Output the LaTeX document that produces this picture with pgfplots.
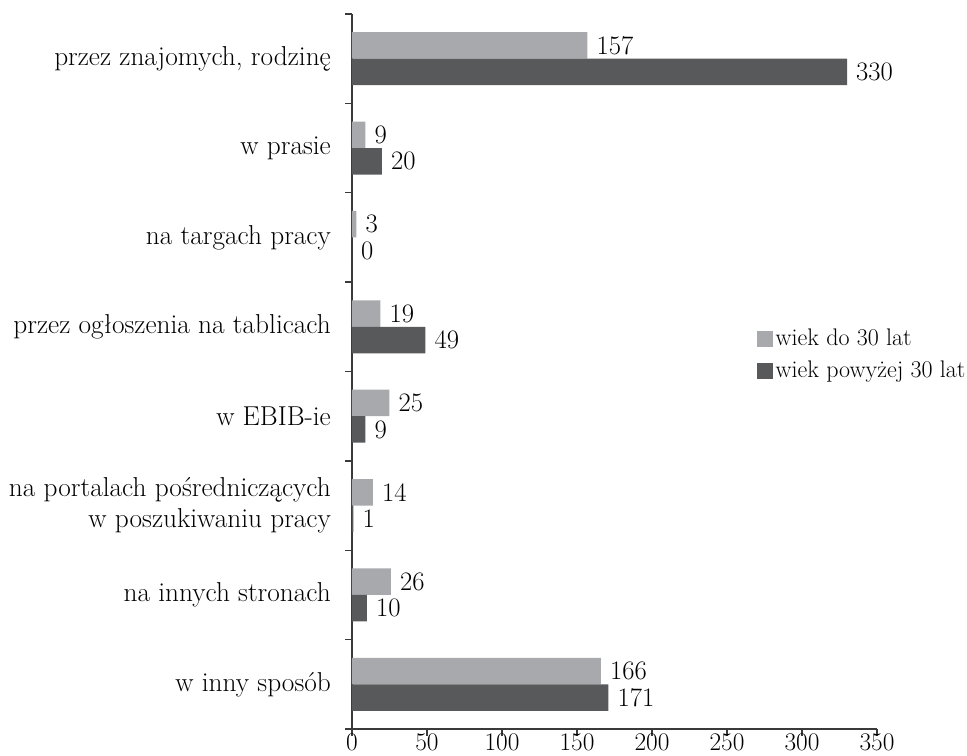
\documentclass[border=0pt]{standalone}
\usepackage{pgfplots}
\pgfplotsset{compat=1.18}
\definecolor{lightbar}{HTML}{A7A9AC}
\definecolor{darkbar}{HTML}{58595B}
\definecolor{axisgray}{HTML}{3A3A3A}
\begin{document}
\fontsize{20}{25}\selectfont
\begin{tikzpicture}
\begin{axis}[
  at={(0,0)}, anchor=south west,
  scale only axis, width=393.75pt, height=536.25pt,
  /pgf/number format/assume math mode=true,
  xbar, bar width=19.9pt,
  xmin=0, xmax=350, ymin=-0.5, ymax=7.5, y dir=reverse,
  axis x line*=bottom, axis y line*=left,
  axis line style={axisgray, line width=1.1pt, -},
  tick style={axisgray, line width=1.1pt},
  tick align=outside, major tick length=5pt,
  xtick={0,50,...,350},
  xticklabel style={font=\fontsize{19}{22}\selectfont, inner sep=0pt, yshift=1.5pt},
  ytick={-0.5,0.5,...,7.5}, yticklabels={},
  extra y ticks={0,1,2,3,4,5,6,7},
  extra y tick labels={przez znajomych{,} rodzinę, w prasie, na targach pracy, przez ogłoszenia na tablicach, w EBIB-ie, {na portalach pośredniczących\\w poszukiwaniu pracy}, na innych stronach, w inny sposób},
  extra y tick style={major tick length=0pt, yticklabel style={font=\fontsize{20.5}{23}\selectfont, align=right, xshift=-9pt}},
  nodes near coords, nodes near coords align={horizontal},
  every node near coord/.append style={black, font=\fontsize{20}{24}\selectfont},
  legend style={at={(0.771,0.523)}, anchor=west, draw=none, fill=none, inner sep=0pt, row sep=4pt, nodes={inner sep=2pt}, font=\fontsize{18}{22}\selectfont},
  legend cell align=left,
  legend image code/.code={\path[#1, draw=none] (0pt,-6pt) rectangle (12pt,6pt);},
]
\addplot[fill=lightbar, draw=none, bar shift=9.95pt] coordinates {(157,0) (9,1) (3,2) (19,3) (25,4) (14,5) (26,6) (166,7)};
\addplot[fill=darkbar, draw=none, bar shift=-9.95pt] coordinates {(330,0) (20,1) (0,2) (49,3) (9,4) (1,5) (10,6) (171,7)};
\legend{wiek do 30 lat, wiek powyżej 30 lat}
\end{axis}
\pgfresetboundingbox
\path[use as bounding box] (-264pt,-20.25pt) rectangle (461.25pt,546.75pt);
\end{tikzpicture}
\end{document}
